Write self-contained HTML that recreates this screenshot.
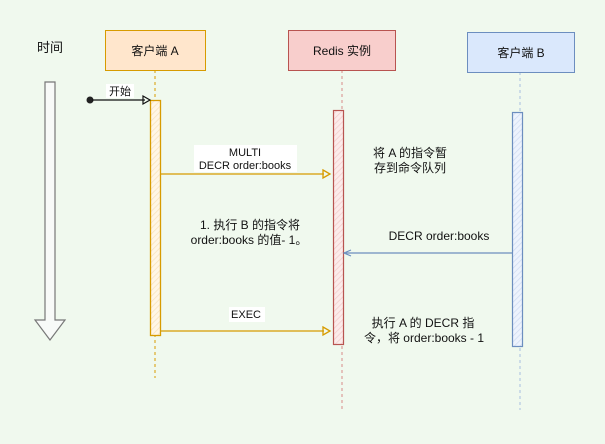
<!DOCTYPE html>
<html><head><meta charset="utf-8"><style>
html,body{margin:0;padding:0;background:#f0f9ee;}
svg{display:block;font-family:"Liberation Sans","Noto Sans CJK SC",sans-serif;}
</style></head><body>
<svg width="605" height="444" viewBox="0 0 605 444" xmlns="http://www.w3.org/2000/svg">
<defs>
<pattern id="hy" width="4" height="4" patternUnits="userSpaceOnUse" patternTransform="rotate(45)"><rect width="4" height="4" fill="#fff6e6"/><line x1="0" y1="0" x2="0" y2="4" stroke="#f8e2bc" stroke-width="1.5"/></pattern>
<pattern id="hr" width="4" height="4" patternUnits="userSpaceOnUse" patternTransform="rotate(45)"><rect width="4" height="4" fill="#fcebea"/><line x1="0" y1="0" x2="0" y2="4" stroke="#f3cccb" stroke-width="1.5"/></pattern>
<pattern id="hb" width="4" height="4" patternUnits="userSpaceOnUse" patternTransform="rotate(45)"><rect width="4" height="4" fill="#edf3fd"/><line x1="0" y1="0" x2="0" y2="4" stroke="#cfdcf2" stroke-width="1.5"/></pattern>
</defs>
<rect width="605" height="444" fill="#f0f9ee"/>
<text x="50" y="52" font-size="13" text-anchor="middle" fill="#111">时间</text>
<path d="M45,82 H55 V320 H65 L50,340 L35,320 H45 Z" fill="#f8faf8" stroke="#777" stroke-width="1.2"/>
<line x1="155" y1="70" x2="155" y2="378" stroke="#d79b00" stroke-dasharray="3,3"/>
<line x1="342" y1="70" x2="342" y2="410" stroke="#d88a88" stroke-dasharray="3,3"/>
<line x1="520" y1="72" x2="520" y2="410" stroke="#a8bfe0" stroke-dasharray="3,3"/>
<rect x="105.5" y="30.5" width="100" height="40" fill="#ffe6cc" stroke="#d79b00"/>
<text x="155" y="55" font-size="12" text-anchor="middle" fill="#111">客户端 A</text>
<rect x="288.5" y="30.5" width="107" height="40" fill="#f8cecc" stroke="#b85450"/>
<text x="342" y="55" font-size="12" text-anchor="middle" fill="#111">Redis 实例</text>
<rect x="467.5" y="32.5" width="107" height="40" fill="#dae8fc" stroke="#6c8ebf"/>
<text x="521" y="57" font-size="12" text-anchor="middle" fill="#111">客户端 B</text>
<rect x="150.5" y="100.5" width="10" height="235" fill="url(#hy)" stroke="#d79b00" stroke-width="1.3"/>
<rect x="333.5" y="110.5" width="10" height="234" fill="url(#hr)" stroke="#b85450" stroke-width="1.2"/>
<rect x="512.5" y="112.5" width="10" height="234" fill="url(#hb)" stroke="#6c8ebf" stroke-width="1.2"/>
<circle cx="90" cy="100" r="3.5" fill="#222"/>
<line x1="92" y1="100" x2="145" y2="100" stroke="#111" stroke-width="1.2"/>
<path d="M143,96 L150,100 L143,104 Z" fill="none" stroke="#111" stroke-width="1.2"/>
<rect x="106" y="84" width="28" height="14" fill="#fff"/>
<text x="120" y="95" font-size="11" text-anchor="middle" fill="#111">开始</text>
<rect x="194" y="145" width="103" height="27" fill="#fff"/>
<text x="245" y="156" font-size="11" text-anchor="middle" fill="#111">MULTI</text>
<text x="245" y="169" font-size="11" text-anchor="middle" fill="#111">DECR order:books</text>
<line x1="161" y1="174" x2="324" y2="174" stroke="#d79b00" stroke-width="1.3"/>
<path d="M323,170 L330,174 L323,178 Z" fill="none" stroke="#d79b00" stroke-width="1.3"/>
<text x="410" y="157" font-size="12" text-anchor="middle" fill="#111">将 A 的指令暂</text>
<text x="410" y="172" font-size="12" text-anchor="middle" fill="#111">存到命令队列</text>
<text x="250" y="229" font-size="12" text-anchor="middle" fill="#111">1. 执行 B 的指令将</text>
<text x="249" y="244" font-size="12" text-anchor="middle" fill="#111">order:books 的值- 1。</text>
<text x="439" y="240" font-size="12" text-anchor="middle" fill="#111">DECR order:books</text>
<line x1="512" y1="253" x2="346" y2="253" stroke="#6c8ebf" stroke-width="1.3"/>
<path d="M351,250 L344,253 L351,256" fill="none" stroke="#6c8ebf" stroke-width="1.2"/>
<rect x="229" y="307" width="36" height="15" fill="#fff"/>
<text x="246" y="318" font-size="11" text-anchor="middle" fill="#111">EXEC</text>
<line x1="161" y1="331" x2="324" y2="331" stroke="#d79b00" stroke-width="1.3"/>
<path d="M323,327 L330,331 L323,335 Z" fill="none" stroke="#d79b00" stroke-width="1.3"/>
<text x="423" y="327" font-size="12" text-anchor="middle" fill="#111">执行 A 的 DECR 指</text>
<text x="424" y="342" font-size="12" text-anchor="middle" fill="#111">令，将 order:books - 1</text>
</svg>
</body></html>
